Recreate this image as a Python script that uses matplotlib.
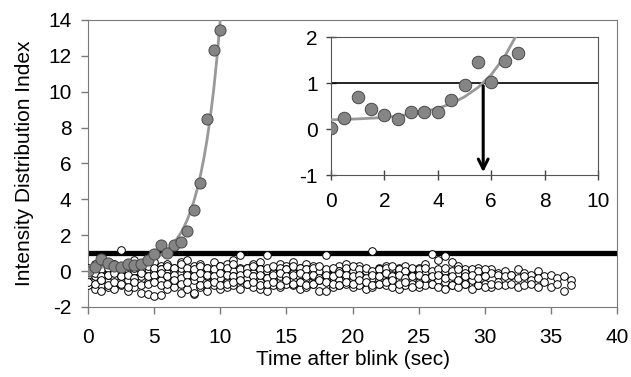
import numpy as np
import matplotlib
matplotlib.use("Agg")
import matplotlib.pyplot as plt

plt.rcParams['font.family'] = ['Liberation Sans', 'DejaVu Sans']
plt.rcParams['axes.unicode_minus'] = False

# blinking cell: intensity distribution index, every 0.5 s
step = 0.5
blink = [0.02, 0.24, 0.70, 0.44, 0.30, 0.22, 0.38, 0.36, 0.38, 0.62, 0.95,
         1.46, 1.02, 1.47, 1.65, 2.24, 3.40, 4.90, 8.46, 12.3, 13.44]

# fitted curve
fit_t = [0, 1, 2, 3, 4, 4.5, 5, 5.5, 6, 6.5, 7, 7.25, 7.5, 7.75, 8, 8.25,
         8.5, 8.75, 9, 9.25, 9.5, 9.75, 10.0]
fit_y = [0.20, 0.22, 0.25, 0.32, 0.45, 0.55, 0.70, 0.90, 1.18, 1.57, 2.10,
         2.45, 2.85, 3.33, 3.89, 4.55, 5.33, 6.25, 7.32, 8.61, 10.1, 11.9, 14.0]

# control cells (open circles), every 0.5 s
ctrl1 = [0.0, 0.4, 0.3, 0.5, 0.2, 1.2, 0.3, 0.6, 0.3, 0.2, 0.5, 0.3, 0.4, 0.2, 0.5, 0.6, 0.3, 0.4, 0.2, 0.5,
         0.3, 0.4, 0.6, 0.9, 0.2, 0.4, 0.5, 0.9, 0.2, 0.4, 0.3, 0.5, 0.2, 0.4, 0.3, 0.2, 0.9, 0.1, 0.3, 0.4,
         0.2, 0.3, 0.1, 1.1, 0.2, 0.3, 0.1, 0.2, 0.3, 0.1, 0.2, 0.4, 0.95, 0.6, 0.85, 0.5, 0.3, 0.1, 0.0, 0.2,
         0.0, 0.1, -0.1, 0.0, -0.2, 0.1, -0.1, -0.2, 0.0, -0.3, -0.2, -0.4, -0.3, -0.5]
ctrl2 = [-0.1, 0.0, -0.2, 0.1, 0.0, -0.1, 0.1, 0.0, -0.2, 0.1,
         0.0, 0.1, -0.1, 0.0, 0.2, -0.1, 0.0, 0.1, -0.1, 0.0,
         0.1, -0.1, 0.0, 0.2, 0.0, -0.1, 0.1, 0.0, -0.1, 0.0,
         0.1, -0.1, 0.0, 0.1, -0.2, 0.0, -0.1, 0.1, 0.0, -0.1,
         0.0, -0.2, 0.0, -0.1, 0.1, -0.1, -0.2, 0.0, -0.1, -0.2,
         0.0, -0.1, -0.2, -0.1, 0.0, -0.2, -0.1, -0.3, -0.1, -0.2,
         -0.3, -0.1, -0.2, -0.3, -0.2, -0.4, -0.3, -0.5, -0.4, -0.6,
         -0.9, -0.7, -1.1, -0.8]
ctrl3 = [-0.4, -0.3, -0.5, -0.2, -0.4, -0.3, -0.5, -0.4, -0.3, -0.6,
         -0.4, -0.5, -0.3, -0.4, -0.6, -0.3, -0.5, -0.4, -0.3, -0.5,
         -0.4, -0.6, -0.3, -0.5, -0.4, -0.3, -0.6, -0.4, -0.5, -0.3,
         -0.4, -0.5, -0.6, -0.4, -0.3, -0.5, -0.4, -0.6, -0.5, -0.4,
         -0.5, -0.3, -0.6, -0.4, -0.5, -0.6, -0.4, -0.5, -0.7, -0.5,
         -0.6, -0.4, -0.7, -0.5, -0.6, -0.8, -0.6, -0.7, -0.5, -0.8,
         -0.7, -0.9, -0.6, -0.8, -0.7, -0.9, -0.8, -0.7, -0.9]
ctrl4 = [-0.8, -1.0, -1.1, -0.9, -1.0, -0.8, -1.1, -0.9, -1.2, -1.3,
         -1.4, -1.35, -1.0, -0.9, -1.2, -1.0, -1.3, -0.9, -1.1, -0.8,
         -1.0, -0.9, -0.8, -1.0, -0.7, -0.9, -1.0, -1.1, -0.8, -0.9,
         -0.7, -0.8, -1.0, -0.9, -0.7, -1.1, -1.1, -0.9, -0.8, -0.7,
         -0.9, -0.8, -1.0, -0.9, -0.7, -0.8, -0.9, -1.0, -0.8, -0.7,
         -0.9, -0.8, -0.7, -0.9, -1.0, -0.8, -0.9, -0.7, -1.0, -0.8,
         -0.9, -0.7, -0.8]
ctrl5 = [0.2, 0.3, 0.1, 0.2, 0.4, 0.1, 0.3, 0.2, 0.1, 0.3,
         0.2, 0.1, 0.3, 0.2, 0.4, 0.2, 0.1, 0.3, 0.2, 0.1,
         0.3, 0.2, 0.4, 0.1, 0.2, 0.3, 0.1, 0.2, 0.3, 0.2,
         0.1, 0.3, 0.2, 0.1, 0.2, 0.3, 0.1, 0.2, 0.0, 0.2,
         0.3, 0.1, 0.2, 0.0, 0.1, 0.2, 0.3, 0.1, 0.0, 0.2,
         0.1, 0.2, 0.0, 0.1, 0.2, 0.0, 0.1, -0.1, 0.1, 0.0,
         0.1]
ctrl6 = [-0.2, -0.1, -0.3, -0.2, -0.1, -0.3, -0.2, -0.4, -0.1, -0.3,
         -0.2, -0.1, -0.3, -0.2, -0.4, -0.2, -0.3, -0.1, -0.2, -0.3,
         -0.1, -0.2, -0.3, -0.2, -0.1, -0.3, -0.2, -0.4, -0.2, -0.1,
         -0.3, -0.2, -0.1, -0.3, -0.2, -0.4, -0.2, -0.3, -0.1, -0.2,
         -0.3, -0.2, -0.4, -0.2, -0.3, -0.1, -0.3, -0.2, -0.4, -0.3,
         -0.2, -0.4, -0.3, -0.2, -0.4, -0.3, -0.5, -0.3, -0.2, -0.4,
         -0.3]
ctrl7 = [-0.6, -0.7, -0.5, -0.8, -0.6, -0.7, -0.9, -0.6, -0.8, -0.7,
         -0.6, -0.8, -0.7, -0.5, -0.7, -0.6, -1.2, -0.8, -0.7, -0.6,
         -0.8, -0.7, -0.6, -0.5, -0.7, -0.6, -0.8, -0.7, -0.6, -0.8,
         -0.5, -0.7, -0.6, -0.8, -0.7, -0.5, -0.6, -0.7, -0.8, -0.6,
         -0.7, -0.5, -0.6, -0.8, -0.7, -0.6, -0.5, -0.7, -0.6, -0.9,
         -0.7]
controls = [ctrl1, ctrl2, ctrl3, ctrl4, ctrl5, ctrl6, ctrl7]

threshold = 1.0
onset = 5.7  # where the fit crosses the threshold

gray = '#858585'
edge = '#4a4a4a'
frame = '#7a7a7a'
fs = 15

fig = plt.figure(figsize=(6.31, 3.77), dpi=100)
ax = fig.add_axes([0.1395, 0.1857, 0.8383, 0.7613])

ax.axhline(threshold, color='black', lw=3.8, zorder=2)
for c in controls:
    t = np.arange(len(c)) * step
    ax.plot(t, c, 'o', ms=5.5, mfc='white', mec='black', mew=0.7, ls='none', zorder=3)
ax.plot(fit_t, fit_y, color='#999999', lw=2.0, zorder=4)
tb = np.arange(len(blink)) * step
ax.plot(tb, blink, 'o', ms=8, mfc=gray, mec=edge, mew=0.7, ls='none', zorder=5)

ax.set_xlim(0, 40)
ax.set_ylim(-2, 14)
ax.set_xticks(range(0, 41, 5))
ax.set_yticks(range(-2, 15, 2))
ax.tick_params(labelsize=fs, length=5, width=1, color=frame, direction='out')
ax.tick_params(axis='x', pad=10)
ax.tick_params(axis='y', pad=7)
for s in ax.spines.values():
    s.set_color(frame)
ax.set_xlabel('Time after blink (sec)', fontsize=fs, labelpad=2)
ax.set_ylabel('Intensity Distribution Index', fontsize=fs, labelpad=10)

# inset: zoom on the start
ins = fig.add_axes([0.5246, 0.5358, 0.4231, 0.366])
ins.axhline(threshold, color='black', lw=1.2, zorder=2)
mask = [v <= 7 for v in tb]
ins.plot(fit_t, fit_y, color='#999999', lw=2.0, zorder=3)
ins.plot(tb[mask], np.array(blink)[mask], 'o', ms=9, mfc=gray, mec=edge, mew=0.7,
         ls='none', zorder=4)
ins.annotate('', xy=(onset, -1), xytext=(onset, threshold),
             arrowprops=dict(arrowstyle='->,head_length=0.7,head_width=0.35',
                             color='black', lw=2.2), zorder=5)
ins.set_xlim(0, 10)
ins.set_ylim(-1, 2)
ins.set_xticks(range(0, 11, 2))
ins.set_yticks(range(-1, 3))
ins.tick_params(labelsize=fs, length=7, width=1, color='#444444', direction='inout', pad=6)
ins.tick_params(axis='x', pad=9)
for s in ins.spines.values():
    s.set_color('#555555')

fig.savefig('out.png', dpi=100)
